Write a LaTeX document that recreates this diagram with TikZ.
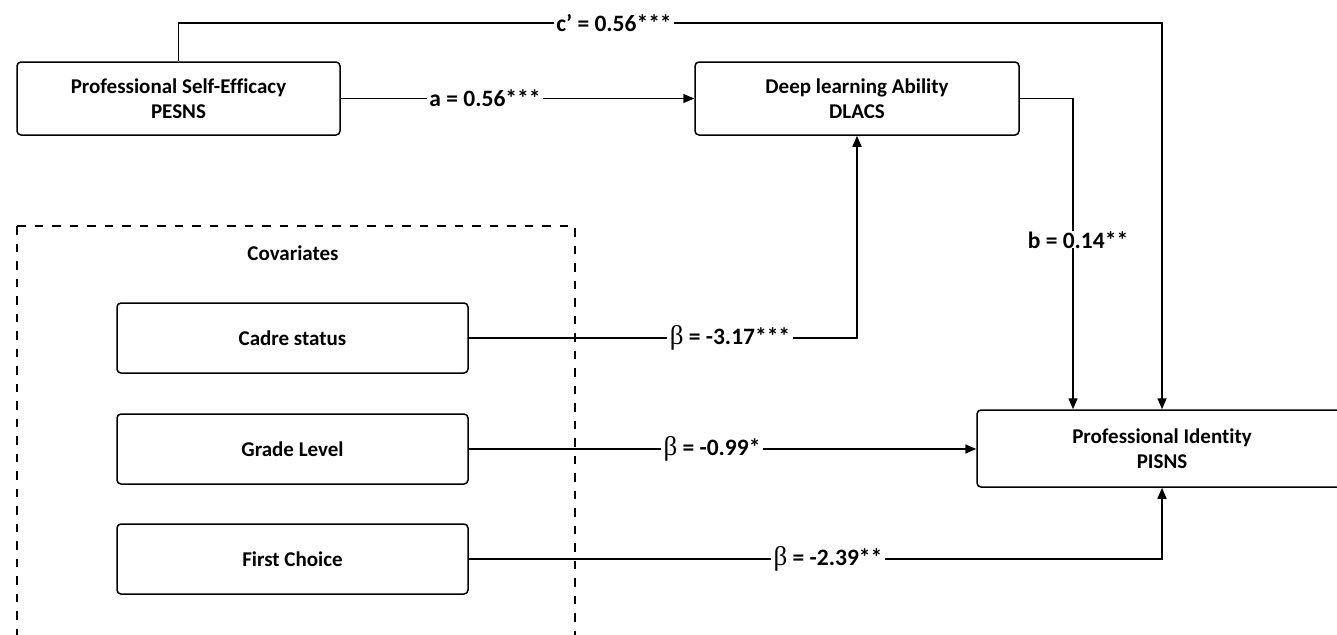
\documentclass[tikz,border=0pt]{standalone}
\usepackage{fontspec}
\setmainfont{Carlito}[Ligatures=NoCommon]
\newfontfamily\betafont{Liberation Serif}
\usetikzlibrary{arrows.meta}
\newcommand\mybeta{{\betafont\fontsize{27}{30}\selectfont\mdseries β}}
\begin{document}
\begin{tikzpicture}[x=1pt,y=-1pt,
  box/.style={draw, line width=1.5pt, rounded corners=4pt, align=center,
    inner sep=2pt, font=\fontsize{21}{25}\selectfont\bfseries},
  conn/.style={line width=1.5pt},
  arr/.style={conn, -{Triangle[length=11pt,width=9pt]}},
  lbl/.style={fill=white, inner sep=2.5pt, font=\fontsize{23.5}{28}\selectfont\bfseries},
  covbox/.style={line width=1.8pt, dash pattern=on 8.5pt off 9pt}]
\useasboundingbox (0,0) rectangle (1337,634);

% nodes
\node[box, minimum width=323pt, minimum height=73pt] (pes) at (178.5,98.5) {Professional Self-Efficacy\\PESNS};
\node[box, minimum width=324pt, minimum height=73pt] (dla) at (857,98.5) {Deep learning Ability\\DLACS};
\node[box, minimum width=351pt, minimum height=70pt] (cad) at (292.5,338) {Cadre status};
\node[box, minimum width=351pt, minimum height=70pt] (gra) at (292.5,449) {Grade Level};
\node[box, minimum width=351pt, minimum height=70pt] (fir) at (292.5,559) {First Choice};
\node[box, minimum width=370pt, minimum height=77pt] (pis) at (1162,448.5) {Professional Identity\\PISNS};

% covariates frame
\draw[covbox] (17,226) -- (17,645);
\draw[covbox] (17,226) -- (575,226) -- (575,645);
\node[font=\fontsize{21}{25}\selectfont\bfseries] (cov) at (293,253) {Covariates};

% connectors
\coordinate (c1) at (178.5,23);
\coordinate (c2) at (1162,23);
\draw[arr] (pes.north) -- (c1) -- (c2) -- (pis.north);
\draw[arr] (pes.east) -- (dla.west);
\coordinate (bc) at (1073,98.5);
\draw[arr] (dla.east) -- (bc) -- (bc |- pis.north);
\draw[arr] (cad.east) -- (cad.east -| dla.south) -- (dla.south);
\draw[arr] (gra.east) -- (gra.east -| pis.west);
\draw[arr] (fir.east) -- (fir.east -| pis.south) -- (pis.south);

% labels
\node[lbl] (lc) at (614,23) {c’ = 0.56***};
\node[lbl] (la) at (485,98.5) {a = 0.56***};
\node[lbl, inner xsep=0pt, inner ysep=0pt, text depth=0pt, anchor=base] (lb) at (1078,248) {b = 0.14**};
\node[lbl] (l1) at (730,338) {\mybeta{} = -3.17***};
\node[lbl] (l2) at (712,449) {\mybeta{} = -0.99*};
\node[lbl] (l3) at (828,559) {\mybeta{} = -2.39**};
\end{tikzpicture}
\end{document}
